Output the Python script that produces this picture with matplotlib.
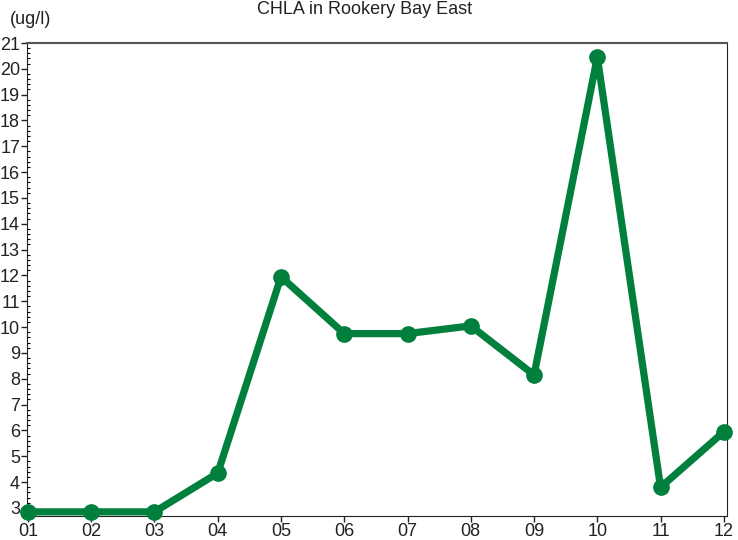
import matplotlib
matplotlib.use("Agg")
import matplotlib.pyplot as plt
from matplotlib.ticker import MultipleLocator

months = ["01", "02", "03", "04", "05", "06", "07", "08", "09", "10", "11", "12"]
chla = [2.85, 2.85, 2.85, 4.35, 11.95, 9.75, 9.75, 10.05, 8.15, 20.45, 3.8, 5.95]
yticks = list(range(3, 22))

plt.rcParams['font.family'] = ['Liberation Sans', 'DejaVu Sans']

fig = plt.figure(figsize=(7.38, 5.40), dpi=100)
ax = fig.add_axes([27/738, 24/540, 700/738, 473/540])
x = list(range(1, 13))
ax.plot(x, chla, color="#00803C", lw=5.2, marker="o", ms=11, solid_joinstyle="round", clip_on=False, zorder=3)

ax.set_xlim(0.985, 12.05)
ax.set_ylim(2.69, 21)
ax.set_xticks(x)
ax.set_xticklabels(months)
ax.set_yticks(yticks)
ax.yaxis.set_minor_locator(MultipleLocator(0.2))
ax.tick_params(axis='both', labelsize=13, colors='#222222', length=4, width=1, pad=1)
ax.tick_params(axis='y', which='minor', length=2, direction='in', width=0.8)
ax.tick_params(axis='x', pad=1)
for s in ['left', 'bottom', 'right']:
    ax.spines[s].set_color('#222222')
ax.spines['top'].set_color('#555555')
ax.spines['top'].set_linewidth(1.5)

fig.text(365/738, 1 - 9/540, "CHLA in Rookery Bay East", ha='center', va='center', fontsize=13, color='#222222')
fig.text(10/738, 1 - 20/540, "(ug/l)", ha='left', va='center', fontsize=13, color='#222222')

fig.savefig("out.png", dpi=100)
